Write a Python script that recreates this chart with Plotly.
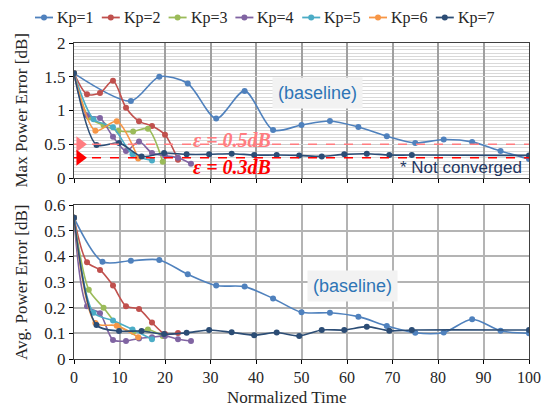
import plotly.graph_objects as go

# ---------------- data ----------------
names = ["Kp=1", "Kp=2", "Kp=3", "Kp=4", "Kp=5", "Kp=6", "Kp=7"]
colors = ["#4F81BD", "#C0504D", "#9BBB59", "#8064A2", "#4BACC6", "#F79646", "#2C4D75"]

# Kp=1 (baseline)
t1_max = [0, 12.5, 18.75, 25, 31.25, 37.5, 43.75, 50, 56.25, 62.5, 68.75, 75, 81.25, 87.5, 93.75, 100]
v1_max = [1.55, 1.14, 1.50, 1.40, 0.88, 1.29, 0.71, 0.785, 0.845, 0.755, 0.62, 0.52, 0.57, 0.535, 0.40, 0.28]
t1_avg = [0, 6.25, 12.5, 18.75, 25, 31.25, 37.5, 43.75, 50, 56.25, 62.5, 68.75, 75, 81.25, 87.5, 93.75, 100]
v1_avg = [0.55, 0.379, 0.383, 0.386, 0.33, 0.286, 0.282, 0.236, 0.182, 0.18, 0.165, 0.129, 0.102, 0.103, 0.155, 0.11, 0.10]

# Kp=2
t2 = [0, 2.86, 5.71, 8.57, 11.43, 14.29, 17.14, 20.0, 22.86]
v2_max = [1.55, 1.24, 1.26, 1.44, 1.04, 0.84, 0.77, 0.64, 0.27]
v2_avg = [0.55, 0.377, 0.347, 0.286, 0.206, 0.195, 0.142, 0.097, 0.101]

# Kp=3
t3 = [0, 3.25, 6.5, 9.75, 13.0, 16.25, 19.5]
v3_max = [1.55, 0.90, 0.78, 0.70, 0.69, 0.73, 0.24]
v3_avg = [0.55, 0.27, 0.20, 0.13, 0.105, 0.115, 0.09]

# Kp=4
t4 = [0, 2.86, 5.71, 8.57, 11.43, 14.29, 17.14, 20.0, 22.86, 25.71]
v4_max = [1.55, 0.93, 0.89, 0.61, 0.40, 0.54, 0.37, 0.33, 0.30, 0.21]
v4_avg = [0.55, 0.206, 0.178, 0.074, 0.07, 0.08, 0.085, 0.09, 0.077, 0.07]

# Kp=5
t5 = [0, 4.29, 8.57, 12.86, 17.14]
v5_max = [1.55, 0.87, 0.75, 0.35, 0.26]
v5_avg = [0.55, 0.18, 0.15, 0.115, 0.077]

# Kp=6
t6 = [0, 4.7, 9.4, 14.1]
v6_max = [1.55, 0.70, 0.84, 0.29]
v6_avg = [0.55, 0.14, 0.13, 0.085]

# Kp=7
t7 = [0, 4.95, 9.9, 14.85, 19.8, 24.75, 29.7, 34.65, 39.6, 44.55, 49.5, 54.45, 59.4, 64.35, 69.3, 74.25, 100]
v7_max = [1.55, 0.49, 0.52, 0.32, 0.37, 0.35, 0.35, 0.36, 0.34, 0.34, 0.335, 0.32, 0.35, 0.36, 0.34, 0.34, 0.335]
v7_avg = [0.55, 0.132, 0.109, 0.109, 0.097, 0.102, 0.113, 0.104, 0.093, 0.103, 0.09, 0.113, 0.113, 0.126, 0.11, 0.113, 0.113]

t_max = [t1_max, t2, t3, t4, t5, t6, t7]
v_max = [v1_max, v2_max, v3_max, v4_max, v5_max, v6_max, v7_max]
t_avg = [t1_avg, t2, t3, t4, t5, t6, t7]
v_avg = [v1_avg, v2_avg, v3_avg, v4_avg, v5_avg, v6_avg, v7_avg]

eps_vals = [0.5, 0.3]
eps_colors = ["#FF7C80", "#FF0000"]
eps_labels = ["ε = 0.5dB", "ε = 0.3dB"]

SERIF = "Liberation Serif"
SANS = "Liberation Sans"
TXT = "#262626"

# target plot area in page pixels; the page body adds an 8px offset
OFF = 8
W, H = 550, 413
PL, PT, PW, PH = 74, 43, 455, 316
L, T = PL - OFF, PT - OFF
R, B = W - L - PW, H - T - PH


def px_x(p):
    return (p - PL) / PW


def px_y(p):
    return (PT + PH - p) / PH


fig = go.Figure()

for i in range(7):
    fig.add_trace(go.Scatter(
        x=t_max[i], y=v_max[i], name=names[i], mode="lines+markers",
        line=dict(color=colors[i], width=1.6, shape="spline", smoothing=0.8),
        marker=dict(color=colors[i], size=6),
        xaxis="x", yaxis="y", showlegend=False))
for i in range(7):
    fig.add_trace(go.Scatter(
        x=t_avg[i], y=v_avg[i], name=names[i], mode="lines+markers",
        line=dict(color=colors[i], width=1.6, shape="spline", smoothing=0.8),
        marker=dict(color=colors[i], size=6),
        xaxis="x2", yaxis="y2", showlegend=False))

# threshold dashed lines + triangles
for v, c in zip(eps_vals, eps_colors):
    fig.add_trace(go.Scatter(x=[0, 100], y=[v, v], mode="lines",
                             line=dict(color=c, width=1.6, dash="dash"),
                             xaxis="x", yaxis="y", showlegend=False, hoverinfo="skip"))
    fig.add_trace(go.Scatter(x=[1.3], y=[v], mode="markers",
                             marker=dict(symbol="triangle-right", size=14, color=c),
                             xaxis="x", yaxis="y", showlegend=False, cliponaxis=False,
                             hoverinfo="skip"))

C = dict(xanchor="center", yanchor="middle", showarrow=False)
annotations = [
    dict(x=34.7, y=0.565, xref="x", yref="y", text="<b><i>" + eps_labels[0] + "</i></b>",
         font=dict(family=SERIF, size=20, color=eps_colors[0]), **C),
    dict(x=34.7, y=0.16, xref="x", yref="y", text="<b><i>" + eps_labels[1] + "</i></b>",
         font=dict(family=SERIF, size=20, color=eps_colors[1]), **C),
    dict(x=98.8, y=0.16, xref="x", yref="y", xanchor="right", yanchor="middle",
         text="* Not converged", showarrow=False,
         font=dict(family=SANS, size=17, color="#1F3864")),
    dict(x=53.5, y=1.262, xref="x", yref="y", text="(baseline)",
         bgcolor="#F2F2F2", borderpad=5,
         font=dict(family=SANS, size=18, color="#2E75B6"), **C),
    dict(x=61.2, y=0.284, xref="x2", yref="y2", text="(baseline)",
         bgcolor="#F2F2F2", borderpad=5,
         font=dict(family=SANS, size=18, color="#2E75B6"), **C),
    # axis titles
    dict(x=px_x(21), y=px_y(110.5), xref="paper", yref="paper", text="Max Power Error [dB]",
         textangle=-90, font=dict(family=SERIF, size=17, color=TXT), **C),
    dict(x=px_x(21), y=px_y(283), xref="paper", yref="paper", text="Avg. Power Error [dB]",
         textangle=-90, font=dict(family=SERIF, size=17, color=TXT), **C),
    dict(x=px_x(286), y=px_y(397.5), xref="paper", yref="paper", text="Normalized Time",
         font=dict(family=SERIF, size=17, color=TXT), **C),
]

# manual one-row legend
shapes = []
leg_y = px_y(17.5)
for i, (nm, c) in enumerate(zip(names, colors)):
    x0 = 35 + 66.8 * i
    shapes.append(dict(type="line", xref="paper", yref="paper",
                       x0=px_x(x0), x1=px_x(x0 + 18), y0=leg_y, y1=leg_y,
                       line=dict(color=c, width=1.8)))
    shapes.append(dict(type="circle", xref="paper", yref="paper",
                       xsizemode="pixel", ysizemode="pixel",
                       xanchor=px_x(x0 + 9), yanchor=leg_y, x0=-3, x1=3, y0=-3, y1=3,
                       fillcolor=c, line=dict(color=c, width=0)))
    annotations.append(dict(x=px_x(x0 + 20), y=leg_y, xref="paper", yref="paper",
                            xanchor="left", yanchor="middle", text=nm, showarrow=False,
                            font=dict(family=SERIF, size=16, color=TXT)))

axis_common = dict(showline=True, linecolor="#404040", linewidth=1.2, mirror=True,
                   ticks="outside", ticklen=4, tickcolor="#000000", automargin=False,
                   zeroline=False)

fig.update_layout(
    width=W, height=H,
    margin=dict(l=L, r=R, t=T, b=B),
    paper_bgcolor="white", plot_bgcolor="white",
    xaxis=dict(domain=[0, 1], anchor="y", range=[0, 100], dtick=10, showticklabels=False,
               showgrid=True, gridcolor="#A0A0A0", gridwidth=1.6, **axis_common),
    yaxis=dict(domain=[px_y(178), 1], anchor="x", range=[0, 2], dtick=0.5,
               showgrid=True, gridcolor="#CFCFCF", gridwidth=1,
               minor=dict(dtick=0.05, showgrid=True, gridcolor="#D9D9D9", gridwidth=1),
               tickfont=dict(family=SERIF, size=17, color=TXT), **axis_common),
    xaxis2=dict(domain=[0, 1], anchor="y2", range=[0, 100], dtick=10,
                showgrid=True, gridcolor="#B4B4B4", gridwidth=1.6,
                tickfont=dict(family=SERIF, size=16, color=TXT), **axis_common),
    yaxis2=dict(domain=[0, px_y(205)], anchor="x2", range=[0, 0.6], dtick=0.1,
                showgrid=True, gridcolor="#B4B4B4", gridwidth=1.6,
                tickfont=dict(family=SERIF, size=17, color=TXT), **axis_common),
    annotations=annotations,
    shapes=shapes,
    showlegend=False,
)

fig.write_html("out.html")
